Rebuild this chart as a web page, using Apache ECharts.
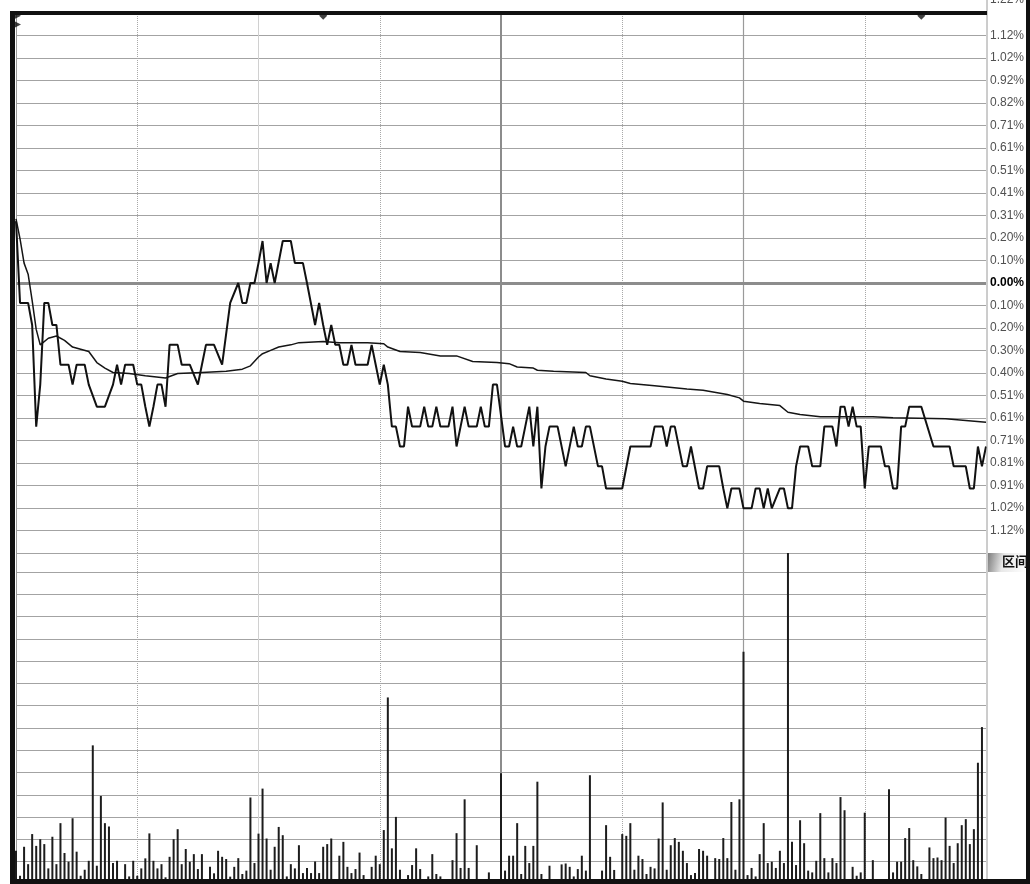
<!DOCTYPE html>
<html><head><meta charset="utf-8">
<script src="https://cdn.jsdelivr.net/npm/echarts@6/dist/echarts.min.js"></script>
<style>html,body{margin:0;padding:0;background:#fff;overflow:hidden}#c{width:1030px;height:884px}</style>
</head><body><div id="c"></div>
<script>
// ---- data (minutes since open, % change vs previous close) ----
const priceMinutes = [
  0,1,3,4,5,6,7,8,9,10,
  11,13,14,15,17,18,20,22,24,25,
  26,27,29,30,31,32,33,34,35,36,
  37,38,40,41,43,45,46,47,49,51,
  53,55,56,57,58,59,60,61,62,63,
  64,66,68,69,71,72,74,75,76,77,
  78,79,80,81,82,83,84,87,88,89,
  90,91,92,93,94,95,96,97,98,100,
  101,102,103,104,105,107,108,109,110,111,
  112,114,115,116,117,118,119,121,122,123,
  124,125,126,127,128,129,130,131,132,134,
  136,138,139,140,141,142,144,145,146,150,
  152,157,158,160,161,162,163,165,166,167,
  169,170,171,174,175,176,177,179,180,182,
  183,184,185,186,187,189,190,191,192,193,
  194,196,197,199,200,202,203,204,205,206,
  207,208,209,210,211,214,215,216,217,218,
  219,220,221,224,227,231,232,235,236,237,
  238,239,240
];
const pricePct = [
  0.28,-0.09,-0.09,-0.19,-0.65,-0.46,-0.09,-0.09,-0.19,-0.19,
  -0.37,-0.37,-0.46,-0.37,-0.37,-0.46,-0.56,-0.56,-0.46,-0.37,
  -0.46,-0.37,-0.37,-0.46,-0.46,-0.56,-0.65,-0.56,-0.46,-0.46,
  -0.56,-0.28,-0.28,-0.37,-0.37,-0.46,-0.37,-0.28,-0.28,-0.37,
  -0.09,0,-0.09,-0.09,0,0,0.09,0.19,0,0.09,
  0,0.19,0.19,0.09,0.09,0,-0.19,-0.09,-0.19,-0.28,
  -0.19,-0.28,-0.28,-0.37,-0.37,-0.28,-0.37,-0.37,-0.28,-0.37,
  -0.46,-0.37,-0.46,-0.65,-0.65,-0.74,-0.74,-0.56,-0.65,-0.65,
  -0.56,-0.65,-0.65,-0.56,-0.65,-0.65,-0.56,-0.74,-0.65,-0.56,
  -0.65,-0.65,-0.56,-0.65,-0.65,-0.46,-0.46,-0.74,-0.74,-0.65,
  -0.74,-0.74,-0.65,-0.56,-0.74,-0.56,-0.93,-0.74,-0.65,-0.65,
  -0.83,-0.65,-0.74,-0.74,-0.65,-0.65,-0.83,-0.83,-0.93,-0.93,
  -0.74,-0.74,-0.65,-0.65,-0.74,-0.65,-0.65,-0.83,-0.83,-0.74,
  -0.93,-0.93,-0.83,-0.83,-0.93,-1.02,-0.93,-0.93,-1.02,-1.02,
  -0.93,-0.93,-1.02,-0.93,-1.02,-0.93,-0.93,-1.02,-1.02,-0.83,
  -0.74,-0.74,-0.83,-0.83,-0.65,-0.65,-0.74,-0.56,-0.56,-0.65,
  -0.56,-0.65,-0.65,-0.93,-0.74,-0.74,-0.83,-0.83,-0.93,-0.93,
  -0.65,-0.65,-0.56,-0.56,-0.74,-0.74,-0.83,-0.83,-0.93,-0.93,
  -0.74,-0.83,-0.74
];
const avgMinutes = [
  0,1,2,3,4,5,6,8,10,12,
  14,16,18,20,22,24,28,32,37,40,
  46,52,56,58,60,61,63,65,68,70,
  76,80,87,91,92,95,100,105,109,113,
  119,122,124,128,129,133,141,142,146,150,
  152,158,166,170,176,179,180,184,189,191,
  194,199,212,217,230,240
];
const avgPct = [
  0.29,0.20,0.09,0.04,-0.08,-0.21,-0.28,-0.25,-0.24,-0.26,
  -0.29,-0.30,-0.31,-0.36,-0.385,-0.405,-0.41,-0.42,-0.43,-0.41,
  -0.405,-0.40,-0.39,-0.375,-0.335,-0.32,-0.305,-0.29,-0.28,-0.27,
  -0.265,-0.27,-0.27,-0.275,-0.29,-0.31,-0.315,-0.33,-0.33,-0.355,
  -0.36,-0.365,-0.38,-0.385,-0.395,-0.40,-0.405,-0.42,-0.435,-0.445,
  -0.455,-0.465,-0.48,-0.485,-0.505,-0.52,-0.535,-0.545,-0.555,-0.585,
  -0.595,-0.605,-0.605,-0.61,-0.615,-0.63
];
const volMinutes = [
  0,1,2,3,4,5,6,7,8,9,10,11,12,13,14,15,16,17,18,19,20,21,22,23,24,25,27,28,29,30,
  31,32,33,34,35,36,37,38,39,40,41,42,43,44,45,46,48,49,50,51,52,53,54,55,56,57,58,59,60,
  61,62,63,64,65,66,67,68,69,70,71,72,73,74,75,76,77,78,80,81,82,83,84,85,86,88,89,90,
  91,92,93,94,95,97,98,99,100,102,103,104,105,108,109,110,111,112,114,117,
  120,121,122,123,124,125,126,127,128,129,130,132,135,136,137,138,139,140,141,142,145,146,147,148,150,
  151,152,153,154,155,156,157,158,159,160,161,162,163,164,165,166,167,168,169,170,171,173,174,175,176,177,178,179,180,
  181,182,183,184,185,186,187,188,189,190,191,192,193,194,195,196,197,198,199,200,201,202,203,204,205,207,208,209,210,
  212,216,217,218,219,220,221,222,223,224,226,227,228,229,230,231,232,233,234,235,236,237,238,239
];
const volValues = [
  149,37,167,89,224,171,201,179,70,212,89,273,139,100,295,145,37,64,104,622,82,395,273,258,94,104,89,34,104,37,
  70,115,227,104,70,89,30,122,201,246,89,157,100,134,67,134,77,48,149,122,112,33,77,116,45,60,388,94,226,
  428,204,64,167,256,219,34,89,70,174,49,72,49,101,49,167,179,204,127,189,77,49,67,141,40,77,127,89,
  242,837,160,301,64,40,85,160,67,34,134,45,34,107,228,72,380,72,174,52,
  497,60,127,127,273,45,171,94,171,459,45,82,88,92,77,34,67,127,60,488,60,264,122,63,224,
  216,273,64,127,112,45,77,70,204,366,64,174,206,189,149,94,40,49,157,149,127,116,112,206,116,368,64,380,1042,
  40,72,34,134,273,94,100,72,149,94,1485,189,85,286,183,60,52,104,318,116,52,116,94,390,331,77,37,52,320,
  107,425,52,100,100,206,251,107,79,45,164,116,119,107,298,171,94,183,264,291,179,246,544,704
];
const eventMinutes = [76, 224];
// right-axis tick labels, bottom to top (one per grid step)
const tickLabels = ['1.22%','1.12%','1.02%','0.91%','0.81%','0.71%','0.61%','0.51%','0.40%','0.30%','0.20%','0.10%',
  '0.00%','0.10%','0.20%','0.31%','0.41%','0.51%','0.61%','0.71%','0.82%','0.92%','1.02%','1.12%','1.22%'];

// ---- chart ----
const STEP = 0.10185, LIM = 12 * STEP;
const FONT = 'Liberation Sans, Arial, sans-serif';
const pricePairs = priceMinutes.map((m, i) => [m, pricePct[i]]);
const avgPairs = avgMinutes.map((m, i) => [m, avgPct[i]]);
const volPairs = volMinutes.map((m, i) => [m, volValues[i]]);
const eventPairs = eventMinutes.map(m => [m, 1.21]);

const vLines = [
  {xAxis: 30, lineStyle: {type: 'dotted', color: '#a8a8a8', width: 1}},
  {xAxis: 60, lineStyle: {type: 'solid', color: '#d0d0d0', width: 1}},
  {xAxis: 90, lineStyle: {type: 'dotted', color: '#a8a8a8', width: 1}},
  {xAxis: 120, lineStyle: {type: 'solid', color: '#8c8c8c', width: 2}},
  {xAxis: 150, lineStyle: {type: 'dotted', color: '#a8a8a8', width: 1}},
  {xAxis: 180, lineStyle: {type: 'solid', color: '#9a9a9a', width: 1.2}},
  {xAxis: 210, lineStyle: {type: 'dotted', color: '#a8a8a8', width: 1}}
];
const markCfg = (data) => ({silent: true, z: 1, symbol: ['none', 'none'], label: {show: false}, animation: false, data: data});

const chart = echarts.init(document.getElementById('c'), null, {renderer: 'canvas'});
chart.setOption({
  animation: false,
  backgroundColor: '#ffffff',
  grid: [
    {left: 16, right: 44, top: 13, height: 540},
    {left: 16, right: 44, top: 553, height: 332}
  ],
  xAxis: [
    {type: 'value', gridIndex: 0, min: 0, max: 240, show: false},
    {type: 'value', gridIndex: 1, min: 0, max: 240, show: false}
  ],
  yAxis: [
    {
      type: 'value', gridIndex: 0, position: 'right', min: -LIM, max: LIM, interval: STEP,
      axisLine: {show: true, lineStyle: {color: '#9a9a9a', width: 1}},
      axisTick: {show: false},
      splitLine: {show: true, lineStyle: {color: '#a3a3a3', width: 1}},
      axisLabel: {
        show: true, margin: 4, color: '#505050', fontSize: 12, fontFamily: FONT, align: 'left',
        formatter: function (v) {
          const i = Math.round((v + LIM) / STEP);
          if (i <= 0 || i >= 24) return '';
          return i === 12 ? '{z|' + tickLabels[i] + '}' : tickLabels[i];
        },
        rich: {z: {fontWeight: 'bold', color: '#000', fontSize: 12, fontFamily: FONT}}
      }
    },
    {
      type: 'value', gridIndex: 1, position: 'right', min: 0, max: 1485, interval: 100,
      axisLine: {show: true, lineStyle: {color: '#9a9a9a', width: 1}},
      axisTick: {show: false}, axisLabel: {show: false},
      splitLine: {show: true, lineStyle: {color: '#a3a3a3', width: 1}}
    }
  ],
  series: [
    {
      name: 'grid-top', type: 'line', xAxisIndex: 0, yAxisIndex: 0, data: [[0, 0]],
      symbol: 'none', z: 1, silent: true, lineStyle: {width: 0, opacity: 0},
      markLine: markCfg(vLines.concat([{yAxis: 0, lineStyle: {type: 'solid', color: '#8c8c8c', width: 3}}]))
    },
    {
      name: 'grid-bottom', type: 'line', xAxisIndex: 1, yAxisIndex: 1, data: [[0, 0]],
      symbol: 'none', z: 1, silent: true, lineStyle: {width: 0, opacity: 0},
      markLine: markCfg(vLines)
    },
    {
      name: 'avg', type: 'line', xAxisIndex: 0, yAxisIndex: 0, data: avgPairs,
      showSymbol: false, symbol: 'none', z: 2, silent: true,
      lineStyle: {color: '#151515', width: 1.5}
    },
    {
      name: 'price', type: 'line', xAxisIndex: 0, yAxisIndex: 0, data: pricePairs,
      showSymbol: false, symbol: 'none', z: 3, silent: true,
      lineStyle: {color: '#111111', width: 2}
    },
    {
      name: 'volume', type: 'bar', xAxisIndex: 1, yAxisIndex: 1, data: volPairs,
      barWidth: 2, z: 3, silent: true, itemStyle: {color: '#1c1c1c'}
    },
    {
      name: 'events', type: 'scatter', xAxisIndex: 0, yAxisIndex: 0, data: eventPairs,
      symbol: 'diamond', symbolSize: [8, 8], z: 6, silent: true, clip: false,
      itemStyle: {color: '#111'}
    },
    {
      name: 'start', type: 'scatter', xAxisIndex: 0, yAxisIndex: 0, data: [[0, 1.21], [0, 1.17]],
      symbol: 'triangle', symbolRotate: -90, symbolSize: 6, symbolOffset: [2, 0], z: 6, silent: true, clip: false,
      itemStyle: {color: '#111'}
    }
  ],
  graphic: [
    {type: 'text', left: 990, top: -6, z: 50, silent: true,
      style: {text: '1.22%', fill: '#505050', font: '12px ' + FONT}},
    {type: 'line', z: 60, silent: true, shape: {x1: 987, y1: 0, x2: 987, y2: 884},
      style: {stroke: '#9a9a9a', lineWidth: 1}},
    {type: 'rect', z: 70, silent: true, shape: {x: 988, y: 553, width: 40, height: 19},
      style: {fill: new echarts.graphic.LinearGradient(0, 0, 1, 0.4, [
        {offset: 0, color: '#7e7e7e'}, {offset: 0.4, color: '#e8e8e8'}, {offset: 1, color: '#ffffff'}])}},
    {type: 'text', z: 71, silent: true, left: 1002, top: 555,
      style: {text: '区间', fill: '#111', font: 'bold 13px "Noto Sans CJK SC", sans-serif'}},
    {type: 'rect', z: 100, silent: true, shape: {x: 10, y: 11, width: 5, height: 873}, style: {fill: '#111'}},
    {type: 'rect', z: 100, silent: true, shape: {x: 10, y: 11, width: 977, height: 4}, style: {fill: '#111'}},
    {type: 'rect', z: 100, silent: true, shape: {x: 10, y: 879, width: 1020, height: 5}, style: {fill: '#111'}},
    {type: 'rect', z: 100, silent: true, shape: {x: 1026, y: 0, width: 4, height: 884}, style: {fill: '#111'}}
  ]
});
</script>
</body></html>
